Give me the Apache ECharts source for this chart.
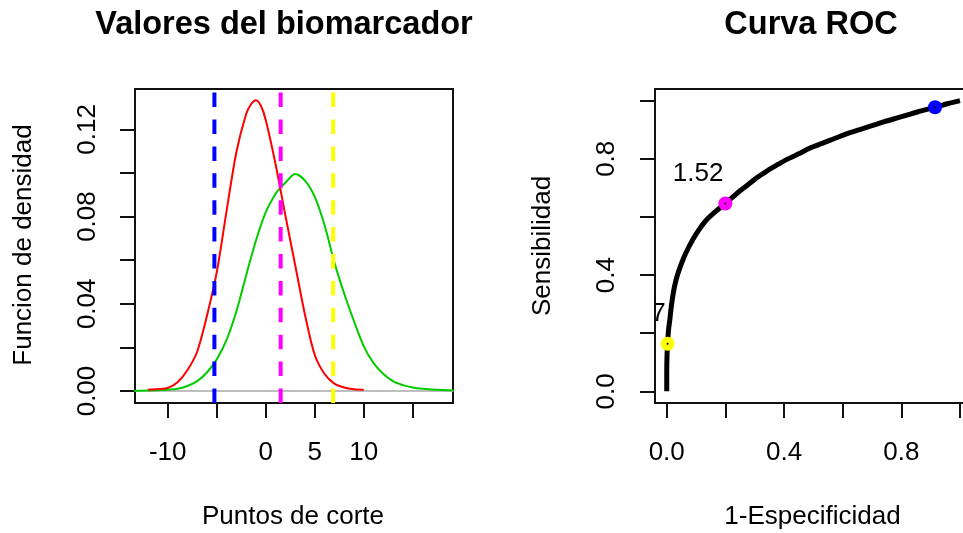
<!DOCTYPE html>
<html>
<head>
<meta charset="utf-8">
<script src="https://cdn.jsdelivr.net/npm/echarts@6/dist/echarts.min.js"></script>
<style>
  html, body { margin: 0; padding: 0; background: #ffffff; }
  #chart { width: 963px; height: 533px; }
</style>
</head>
<body>
<div id="chart"></div>
<script>
// Density of the biomarker in the healthy group (red)
const redX = [-12, -11, -10, -9, -8, -7, -6, -5, -4, -3, -2, -1.5, -1, -0.5, 0, 1, 2, 3, 4, 5, 6, 7, 8, 9, 10];
const redY = [0.0006, 0.0009, 0.0014, 0.0040, 0.0095, 0.0180, 0.0345, 0.0545, 0.0825, 0.1095, 0.1270, 0.1315,
              0.1333, 0.1308, 0.1243, 0.1040, 0.0805, 0.0578, 0.0350, 0.0165, 0.0078, 0.0034, 0.0016, 0.0008, 0.0006];

// Density of the biomarker in the diseased group (green)
const greenX = [-13.5, -12, -11, -10, -9, -8, -7, -6, -5, -4, -3, -2, -1, 0, 1, 1.5, 2, 3, 4, 5, 6, 7, 8, 9,
                10, 11, 12, 13, 14, 15, 16, 17, 18, 19.5];
const greenY = [0.0001, 0.0002, 0.0004, 0.0006, 0.0010, 0.0023, 0.0045, 0.0085, 0.0145, 0.0235, 0.0365, 0.0530,
                0.0690, 0.0820, 0.0905, 0.0932, 0.0955, 0.0995, 0.0965, 0.0890, 0.0760, 0.0590, 0.0447, 0.0320,
                0.0205, 0.0128, 0.0078, 0.0044, 0.0027, 0.0016, 0.0010, 0.0007, 0.0005, 0.0002];

// Cut-off points and their colours
const cutoffs = [-5.24, 1.52, 6.87];
const cutoffLabels = ['-5.24', '1.52', '6.87'];
const cutoffColors = ['#0000FF', '#FF00FF', '#FFFF00'];

// ROC curve: 1-specificity vs sensitivity
const rocFpr = [0, 0, 0.001, 0.003, 0.006, 0.011, 0.016, 0.023, 0.031, 0.040, 0.057, 0.074, 0.091, 0.108, 0.125,
                0.142, 0.159, 0.180, 0.200, 0.225, 0.250, 0.280, 0.307, 0.340, 0.375, 0.410, 0.450, 0.489, 0.530,
                0.568, 0.625, 0.682, 0.740, 0.795, 0.855, 0.915, 0.960, 1];
const rocSens = [0, 0.06, 0.124, 0.164, 0.210, 0.250, 0.295, 0.342, 0.380, 0.411, 0.457, 0.494, 0.526, 0.553, 0.577,
                 0.596, 0.612, 0.630, 0.646, 0.668, 0.690, 0.713, 0.735, 0.757, 0.778, 0.798, 0.817, 0.837, 0.853,
                 0.868, 0.890, 0.908, 0.927, 0.943, 0.961, 0.977, 0.990, 1];

// ROC coordinates of each cut-off
const cutFpr = [0.915, 0.200, 0.003];
const cutSens = [0.977, 0.646, 0.164];

// Axis ticks and labels
const densXTicks = [-10, -5, 0, 5, 10, 15];
const densXLabels = [-10, 0, 5, 10];
const densYTicks = [0, 0.02, 0.04, 0.06, 0.08, 0.10, 0.12];
const densYLabels = [0, 0.04, 0.08, 0.12];
const rocTicks = [0, 0.2, 0.4, 0.6, 0.8, 1];
const rocLabels = [0, 0.4, 0.8];

const FONT = "'Liberation Sans', Arial, sans-serif";
const INK = '#111111';

const densXRange = [-13.34, 19.10];
const densYRange = [-0.0055, 0.1385];
const rocRange = [-0.04, 1.04];

function axis(gridIndex, range, ticks, labels, fmt, isY, margin) {
  return {
    type: 'value',
    gridIndex: gridIndex,
    position: isY ? 'left' : 'bottom',
    min: range[0],
    max: range[1],
    axisLine: { show: false, onZero: false },
    splitLine: { show: false },
    axisTick: {
      show: true, inside: false, length: 15,
      customValues: ticks,
      lineStyle: { color: INK, width: 2 }
    },
    axisLabel: {
      customValues: labels,
      formatter: fmt,
      rotate: isY ? 90 : 0,
      margin: margin,
      color: '#000',
      fontFamily: FONT,
      fontSize: 26
    }
  };
}

const chart = echarts.init(document.getElementById('chart'), null, { renderer: 'canvas' });

const gridBase = { show: true, borderColor: INK, borderWidth: 2, backgroundColor: 'transparent', containLabel: false, outerBoundsMode: 'none' };

const option = {
  animation: false,
  backgroundColor: '#ffffff',
  grid: [
    Object.assign({ left: 135, top: 89, width: 318, height: 314 }, gridBase),
    // the ROC panel runs slightly past the right edge of the canvas
    Object.assign({ left: 655, top: 89, right: -8.7, height: 314 }, gridBase)
  ],
  xAxis: [
    axis(0, densXRange, densXTicks, densXLabels, v => String(Math.round(v)), false, 37),
    axis(1, rocRange, rocTicks, rocLabels, v => v.toFixed(1), false, 37)
  ],
  yAxis: [
    axis(0, densYRange, densYTicks, densYLabels, v => v.toFixed(2), true, 34),
    axis(1, rocRange, rocTicks, rocLabels, v => v.toFixed(1), true, 35)
  ],
  graphic: [
    { type: 'text', x: 284, y: 25, style: { text: 'Valores del biomarcador', font: 'bold 32.5px ' + FONT, fill: '#000', align: 'center', verticalAlign: 'middle', textAlign: 'center', textVerticalAlign: 'middle' } },
    { type: 'text', x: 811, y: 25, style: { text: 'Curva ROC', font: 'bold 32.5px ' + FONT, fill: '#000', align: 'center', verticalAlign: 'middle', textAlign: 'center', textVerticalAlign: 'middle' } },
    { type: 'text', x: 293, y: 516.5, style: { text: 'Puntos de corte', font: '26px ' + FONT, fill: '#000', align: 'center', verticalAlign: 'middle', textAlign: 'center', textVerticalAlign: 'middle' } },
    { type: 'text', x: 812.5, y: 516.5, style: { text: '1-Especificidad', font: '26px ' + FONT, fill: '#000', align: 'center', verticalAlign: 'middle', textAlign: 'center', textVerticalAlign: 'middle' } },
    { type: 'text', x: 24, y: 245, rotation: Math.PI / 2, style: { text: 'Funcion de densidad', font: '26px ' + FONT, fill: '#000', align: 'center', verticalAlign: 'middle', textAlign: 'center', textVerticalAlign: 'middle' } },
    { type: 'text', x: 543, y: 246, rotation: Math.PI / 2, style: { text: 'Sensibilidad', font: '26px ' + FONT, fill: '#000', align: 'center', verticalAlign: 'middle', textAlign: 'center', textVerticalAlign: 'middle' } }
  ],
  series: [
    // Horizontal reference line at density 0
    {
      type: 'custom', xAxisIndex: 0, yAxisIndex: 0, clip: true, silent: true, z: 1,
      data: [[0, 0]],
      renderItem: function (params, api) {
        const a = api.coord([densXRange[0], api.value(1)]);
        const b = api.coord([densXRange[1], api.value(1)]);
        return { type: 'line', shape: { x1: a[0], y1: a[1], x2: b[0], y2: b[1] }, style: { stroke: '#BEBEBE', lineWidth: 2 } };
      }
    },
    {
      type: 'line', xAxisIndex: 0, yAxisIndex: 0, z: 2,
      data: greenX.map((x, i) => [x, greenY[i]]),
      showSymbol: false, smooth: 0.3, clip: true,
      lineStyle: { color: '#00CC00', width: 2 }
    },
    {
      type: 'line', xAxisIndex: 0, yAxisIndex: 0, z: 3,
      data: redX.map((x, i) => [x, redY[i]]),
      showSymbol: false, smooth: 0.3, clip: true,
      lineStyle: { color: '#FF0000', width: 2 }
    },
    // Vertical dashed lines at each cut-off
    {
      type: 'custom', xAxisIndex: 0, yAxisIndex: 0, clip: true, silent: true, z: 4,
      data: cutoffs.map(c => [c, 0]),
      renderItem: function (params, api) {
        const x = api.value(0);
        const bottom = api.coord([x, densYRange[0]]);
        const top = api.coord([x, densYRange[1]]);
        return {
          type: 'line',
          shape: { x1: bottom[0], y1: bottom[1], x2: top[0], y2: top[1] },
          style: { stroke: cutoffColors[params.dataIndex], lineWidth: 4, lineDash: [14.5, 12.4] }
        };
      }
    },
    // ROC curve
    {
      type: 'line', xAxisIndex: 1, yAxisIndex: 1, z: 2,
      data: rocFpr.map((x, i) => [x, rocSens[i]]),
      showSymbol: false, smooth: 0.3, clip: true,
      lineStyle: { color: '#000000', width: 5 }
    },
    // Cut-off points on the ROC curve
    {
      type: 'scatter', xAxisIndex: 1, yAxisIndex: 1, z: 3,
      data: cutFpr.map((x, i) => ({ value: [x, cutSens[i]], itemStyle: { color: cutoffColors[i], opacity: 1 } })),
      symbol: 'circle', symbolSize: 14
    },
    {
      type: 'scatter', xAxisIndex: 1, yAxisIndex: 1, z: 4,
      data: cutFpr.map((x, i) => [x, cutSens[i]]),
      symbol: 'circle', symbolSize: 2, itemStyle: { color: '#000000', opacity: 1 }
    },
    // Cut-off value labels, clipped to the plot region
    {
      type: 'custom', xAxisIndex: 1, yAxisIndex: 1, clip: true, silent: true, z: 5,
      data: cutFpr.map((x, i) => [x, cutSens[i]]),
      renderItem: function (params, api) {
        const p = api.coord([api.value(0), api.value(1)]);
        return {
          type: 'text',
          x: p[0] - 2,
          y: p[1] - 30,
          style: {
            text: cutoffLabels[params.dataIndex],
            font: '26px ' + FONT,
            fill: '#000',
            align: 'right', verticalAlign: 'middle',
            textAlign: 'right', textVerticalAlign: 'middle'
          }
        };
      }
    }
  ]
};

chart.setOption(option);
</script>
</body>
</html>
